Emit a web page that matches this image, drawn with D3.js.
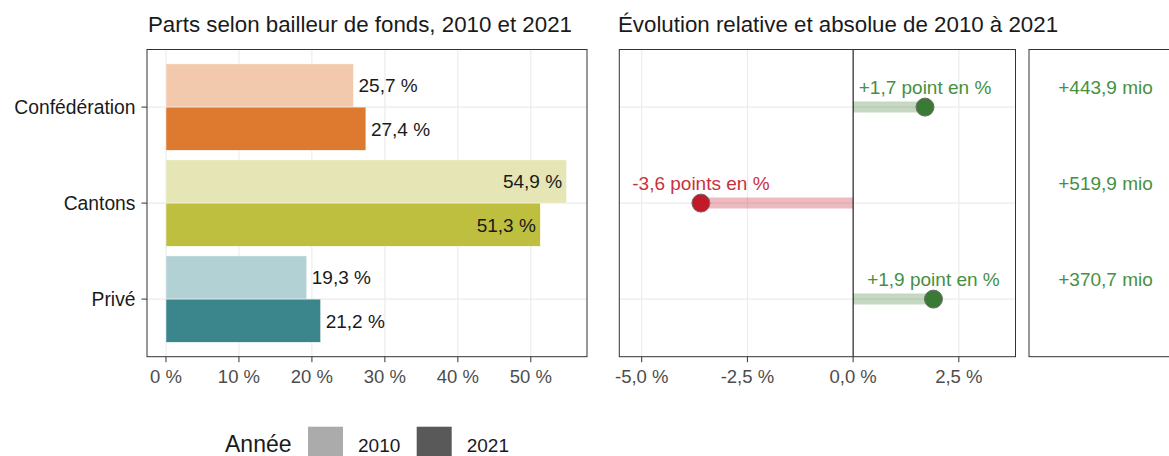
<!DOCTYPE html>
<html>
<head>
  <meta charset="utf-8">
  <script src="https://d3js.org/d3.v7.min.js"></script>
  <style>
    body { margin:0; background:#fff; }
    svg text { font-family: "Liberation Sans", Arial, sans-serif; }
  </style>
</head>
<body>
<script>

  // --- data ---
  const categories = ["Confédération", "Cantons", "Privé"];
  const years = ["2010", "2021"];
  const share2010 = [25.7, 54.9, 19.3];
  const share2021 = [27.4, 51.3, 21.2];
  const changePoints = [1.7, -3.6, 1.9];
  const changeMio = [443.9, 519.9, 370.7];
  const shareTicks = [0, 10, 20, 30, 40, 50];
  const changeTicks = [-5, -2.5, 0, 2.5];
  const colors2010 = ["#f2c9ad", "#e5e5b5", "#b2d1d4"];
  const colors2021 = ["#dd7a2f", "#bfbf3f", "#3b858d"];
  const legendColors = ["#ababab", "#595959"];

  const width = 1169;
  const height = 456;
  const panelTop = 49.5, panelBottom = 356.7;

  const fr = d3.formatLocale({ decimal: ",", thousands: "'", grouping: [3], currency: ["", " CHF"], minus: "-" });
  const f1 = fr.format(".1f");
  const f0 = fr.format(".0f");

  const svg = d3.select("body").append("svg")
    .attr("width", width)
    .attr("height", height);

  const y = d3.scalePoint()
    .domain(categories)
    .range([panelTop, panelBottom])
    .padding(0.6);
  const barH = y.step() * 0.45;

  const xShare = d3.scaleLinear().domain([-2.6, 57.7]).range([147, 587]);
  const xChange = d3.scaleLinear().domain([-5.53, 3.84]).range([619.3, 1015.5]);

  const grid = "#ebebeb";
  const frame = "#333333";

  // titles
  svg.append("text").attr("x", 148).attr("y", 32.3)
    .attr("font-size", 22.3).attr("fill", "#1a1a1a")
    .text("Parts selon bailleur de fonds, 2010 et 2021");
  svg.append("text").attr("x", 618).attr("y", 32.3)
    .attr("font-size", 22.3).attr("fill", "#1a1a1a")
    .text("Évolution relative et absolue de 2010 à 2021");

  // ---------- left panel: bars ----------
  const left = svg.append("g");
  left.selectAll(".vgrid").data(shareTicks).enter().append("line")
    .attr("x1", d => xShare(d)).attr("x2", d => xShare(d))
    .attr("y1", panelTop).attr("y2", panelBottom)
    .attr("stroke", grid).attr("stroke-width", 1.1);
  left.selectAll(".hgrid").data(categories).enter().append("line")
    .attr("x1", xShare.range()[0]).attr("x2", xShare.range()[1])
    .attr("y1", d => y(d)).attr("y2", d => y(d))
    .attr("stroke", grid).attr("stroke-width", 1.1);

  const bars = [];
  categories.forEach((c, i) => {
    bars.push({ cat: c, year: years[0], value: share2010[i], color: colors2010[i], off: -barH });
    bars.push({ cat: c, year: years[1], value: share2021[i], color: colors2021[i], off: 0 });
  });

  left.selectAll(".bar").data(bars).enter().append("rect")
    .attr("x", xShare(0))
    .attr("y", d => y(d.cat) + d.off)
    .attr("width", d => xShare(d.value) - xShare(0))
    .attr("height", barH)
    .attr("fill", d => d.color)
    .attr("stroke", "#ffffff").attr("stroke-width", 0.5);

  left.selectAll(".blabel").data(bars).enter().append("text")
    .attr("x", d => d.value > 50 ? xShare(d.value) - 4.5 : xShare(d.value) + 5)
    .attr("y", d => y(d.cat) + d.off + barH / 2 + 19 * 0.36)
    .attr("text-anchor", d => d.value > 50 ? "end" : "start")
    .attr("font-size", 19).attr("fill", "#1a1a1a")
    .text(d => f1(d.value) + " %");

  left.append("rect")
    .attr("x", xShare.range()[0]).attr("y", panelTop)
    .attr("width", xShare.range()[1] - xShare.range()[0]).attr("height", panelBottom - panelTop)
    .attr("fill", "none").attr("stroke", frame).attr("stroke-width", 1);

  // y axis
  left.selectAll(".ytick").data(categories).enter().append("line")
    .attr("x1", xShare.range()[0] - 5.5).attr("x2", xShare.range()[0])
    .attr("y1", d => y(d)).attr("y2", d => y(d))
    .attr("stroke", frame);
  left.selectAll(".ylab").data(categories).enter().append("text")
    .attr("x", xShare.range()[0] - 11.5).attr("y", d => y(d) + 19.3 * 0.35)
    .attr("text-anchor", "end").attr("font-size", 19.3).attr("fill", "#1a1a1a")
    .text(d => d);

  // x axis
  left.selectAll(".xtick").data(shareTicks).enter().append("line")
    .attr("x1", d => xShare(d)).attr("x2", d => xShare(d))
    .attr("y1", panelBottom).attr("y2", panelBottom + 5.5)
    .attr("stroke", frame);
  left.selectAll(".xlab").data(shareTicks).enter().append("text")
    .attr("x", d => xShare(d)).attr("y", 383.3)
    .attr("text-anchor", "middle").attr("font-size", 18.5).attr("fill", "#4d4d4d")
    .text(d => f0(d) + " %");

  // ---------- middle panel: change in points ----------
  const mid = svg.append("g");
  mid.selectAll(".vgrid").data(changeTicks).enter().append("line")
    .attr("x1", d => xChange(d)).attr("x2", d => xChange(d))
    .attr("y1", panelTop).attr("y2", panelBottom)
    .attr("stroke", grid).attr("stroke-width", 1.1);
  mid.selectAll(".hgrid").data(categories).enter().append("line")
    .attr("x1", xChange.range()[0]).attr("x2", xChange.range()[1])
    .attr("y1", d => y(d)).attr("y2", d => y(d))
    .attr("stroke", grid).attr("stroke-width", 1.1);

  const changes = categories.map((c, i) => ({ cat: c, value: changePoints[i], mio: changeMio[i] }));
  const pos = d => d.value >= 0;

  mid.selectAll(".seg").data(changes).enter().append("line")
    .attr("x1", xChange(0)).attr("x2", d => xChange(d.value))
    .attr("y1", d => y(d.cat)).attr("y2", d => y(d.cat))
    .attr("stroke", d => pos(d) ? "#3a7d35" : "#c41a2b")
    .attr("stroke-opacity", 0.3).attr("stroke-width", 11);

  mid.append("line")
    .attr("x1", xChange(0)).attr("x2", xChange(0))
    .attr("y1", panelTop).attr("y2", panelBottom)
    .attr("stroke", "#000").attr("stroke-width", 1);

  mid.selectAll(".dot").data(changes).enter().append("circle")
    .attr("cx", d => xChange(d.value)).attr("cy", d => y(d.cat))
    .attr("r", 9)
    .attr("fill", d => pos(d) ? "#3a7a34" : "#c11a29")
    .attr("stroke", "#6e6e6e").attr("stroke-width", 1);

  mid.selectAll(".clabel").data(changes).enter().append("text")
    .attr("x", d => xChange(d.value)).attr("y", d => y(d.cat) - 13.4)
    .attr("text-anchor", "middle").attr("font-size", 19)
    .attr("fill", d => pos(d) ? "#46903f" : "#c8323c")
    .text(d => (pos(d) ? "+" : "") + f1(d.value) + (Math.abs(d.value) >= 2 ? " points en %" : " point en %"));

  mid.append("rect")
    .attr("x", xChange.range()[0]).attr("y", panelTop)
    .attr("width", xChange.range()[1] - xChange.range()[0]).attr("height", panelBottom - panelTop)
    .attr("fill", "none").attr("stroke", frame).attr("stroke-width", 1);

  mid.selectAll(".xtick").data(changeTicks).enter().append("line")
    .attr("x1", d => xChange(d)).attr("x2", d => xChange(d))
    .attr("y1", panelBottom).attr("y2", panelBottom + 5.5)
    .attr("stroke", frame);
  mid.selectAll(".xlab").data(changeTicks).enter().append("text")
    .attr("x", d => xChange(d)).attr("y", 383.3)
    .attr("text-anchor", "middle").attr("font-size", 18.5).attr("fill", "#4d4d4d")
    .text(d => f1(d) + " %");

  // ---------- right panel: absolute change ----------
  const right = svg.append("g");
  const rx0 = 1029, rx1 = 1182;
  right.append("rect")
    .attr("x", rx0).attr("y", panelTop)
    .attr("width", rx1 - rx0).attr("height", panelBottom - panelTop)
    .attr("fill", "none").attr("stroke", frame).attr("stroke-width", 1);
  right.selectAll(".mlabel").data(changes).enter().append("text")
    .attr("x", (rx0 + rx1) / 2).attr("y", d => y(d.cat) - 13.4)
    .attr("text-anchor", "middle").attr("font-size", 19).attr("fill", "#46903f")
    .text(d => (d.mio >= 0 ? "+" : "") + f1(d.mio) + " mio");

  // ---------- legend ----------
  const legend = svg.append("g");
  legend.append("text").attr("x", 225).attr("y", 451.7)
    .attr("font-size", 23).attr("fill", "#1a1a1a").text("Année");
  const keyX = [308, 416.7];
  legend.selectAll(".key").data(years).enter().append("rect")
    .attr("x", (d, i) => keyX[i]).attr("y", 426.7)
    .attr("width", 35).attr("height", 35)
    .attr("fill", (d, i) => legendColors[i]);
  legend.selectAll(".klab").data(years).enter().append("text")
    .attr("x", (d, i) => keyX[i] + 50).attr("y", 451.7)
    .attr("font-size", 19).attr("fill", "#1a1a1a")
    .text(d => d);

</script>
</body>
</html>
